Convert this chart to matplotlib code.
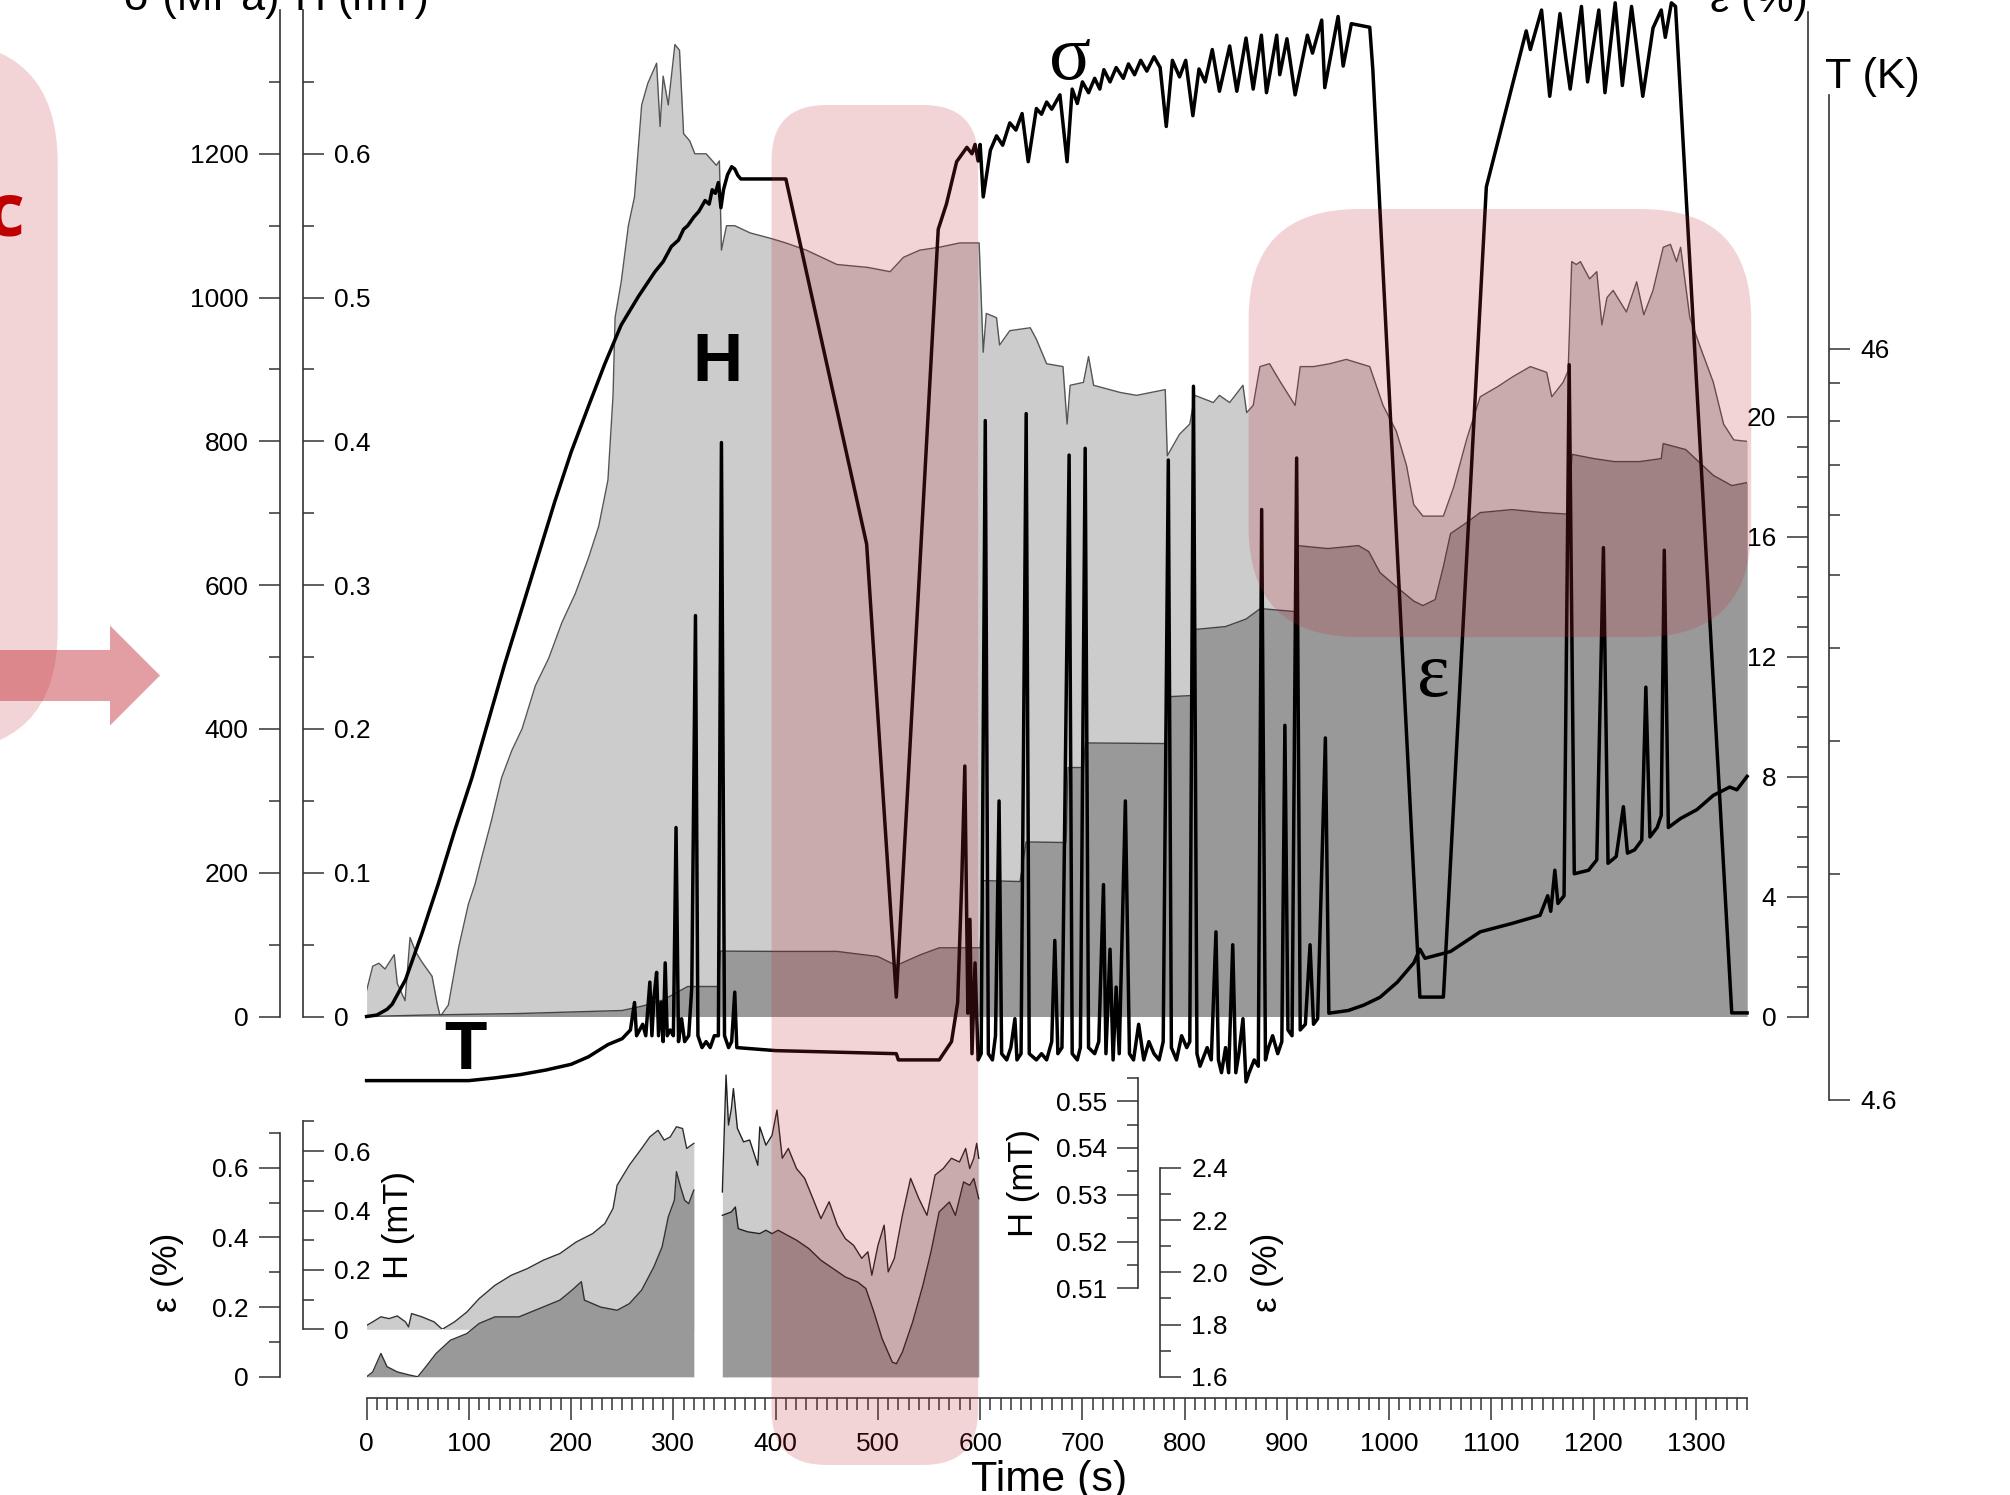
import numpy as np
import matplotlib.pyplot as plt
from matplotlib.patches import FancyBboxPatch, FancyArrow
from matplotlib.transforms import IdentityTransform
from matplotlib.ticker import FixedLocator, FixedFormatter, NullFormatter

plt.rcParams['font.family'] = ['Liberation Sans', 'DejaVu Sans']

# ---- traces: (time s, value) ----
stress = [(0, 0), (10, 2), (20, 10), (25, 17), (38, 51), (54, 115), (70, 184), (86, 258), (103, 332),
          (119, 411), (135, 490), (152, 568), (168, 642), (184, 716), (200, 785), (217, 849), (233, 908),
          (249, 962), (266, 1002), (282, 1036), (290, 1050), (298, 1071), (305, 1080), (310, 1095),
          (314, 1100), (320, 1112), (325, 1120), (331, 1135), (335, 1130), (338, 1150), (341, 1145),
          (344, 1160), (346.5, 1125), (349, 1150), (353, 1171), (357, 1182), (360, 1179), (363, 1170),
          (366, 1165), (410, 1165), (489, 657), (518, 27), (559, 1095), (567, 1130), (577, 1189),
          (587, 1209), (592, 1200), (595, 1213), (598, 1190), (600, 1213), (603, 1140), (610, 1205),
          (616, 1225), (622, 1212), (629, 1243), (635, 1233), (641, 1256), (647, 1189), (655, 1263),
          (660, 1255), (665, 1272), (670, 1262), (678, 1282), (685, 1189), (690, 1290), (695, 1270),
          (700, 1300), (706, 1285), (712, 1305), (717, 1290), (721, 1317), (727, 1300), (733, 1320),
          (740, 1305), (745, 1325), (751, 1310), (757, 1330), (763, 1315), (770, 1335), (776, 1320),
          (782, 1238), (788, 1330), (795, 1307), (801, 1330), (808, 1253), (814, 1318), (820, 1300),
          (827, 1345), (834, 1287), (844, 1350), (851, 1287), (860, 1361), (867, 1290), (875, 1365),
          (880, 1285), (890, 1365), (893, 1310), (900, 1360), (908, 1282), (920, 1365), (925, 1340),
          (934, 1386), (937, 1292), (950, 1391), (955, 1322), (963, 1381), (981, 1376), (984, 1317),
          (1030, 27), (1053, 27), (1095, 1154), (1134, 1371), (1138, 1345), (1142, 1365), (1149, 1400),
          (1157, 1280), (1167, 1395), (1173, 1330), (1177, 1290), (1188, 1405), (1194, 1300),
          (1205, 1400), (1211, 1285), (1221, 1410), (1228, 1295), (1237, 1405), (1248, 1280),
          (1258, 1375), (1266, 1400), (1270, 1362), (1276, 1410), (1280, 1405), (1335, 5), (1350, 5)]

temperature = [(0, 4.88), (100, 4.88), (125, 4.92), (150, 4.97), (175, 5.04), (200, 5.13), (217, 5.25),
               (236, 5.45), (250, 5.55),
               (258, 5.7), (262, 6.2), (264, 5.6), (270, 5.8), (273, 5.6), (277, 6.6), (279, 5.6),
               (281, 6.3), (283.6, 6.8), (285.5, 5.6), (288, 6.2), (290, 5.5), (292, 7.0), (294, 5.6),
               (297, 5.7), (300, 5.6), (302.6, 10.6), (305, 5.5), (308, 5.9), (311, 5.5), (315, 5.6),
               (318, 6.5), (321.6, 20.3), (324, 5.6), (328, 5.4), (332, 5.5), (336, 5.4), (340, 5.6),
               (344, 5.6), (347, 34.5), (350, 5.6), (354, 5.4), (357, 5.5), (360, 6.4), (362, 5.4),
               (400, 5.35), (518, 5.3), (520, 5.2), (560, 5.2), (572, 5.5), (578, 6.2), (582, 9.0),
               (585, 12.8), (588, 6.0), (590, 8.0), (592, 5.3), (595, 7.0), (598, 5.2), (601, 5.3),
               (605, 36.9), (608, 5.3), (612, 5.2), (615, 5.6), (618.5, 11.5), (621, 5.3), (626, 5.2),
               (630, 5.4), (634, 5.9), (636, 5.2), (640, 5.3), (645, 37.7), (648, 5.3), (655, 5.2),
               (660, 5.3), (665, 5.2), (670, 5.5), (673, 7.5), (676, 5.3), (680, 5.4), (687, 33.2),
               (690, 5.3), (695, 5.2), (698, 5.4), (702.7, 33.9), (706, 5.4), (712, 5.3), (716, 5.5),
               (720.6, 8.9), (723, 5.3), (727, 7.3), (730, 5.2), (733, 6.5), (736, 5.3), (742, 11.5),
               (746, 5.3), (750, 5.2), (755, 5.8), (760, 5.2), (765, 5.5), (770, 5.3), (775, 5.2),
               (779, 5.5), (784, 32.7), (787, 5.4), (792, 5.2), (797, 5.6), (802, 5.4), (805, 5.5),
               (808.6, 41), (812, 5.3), (815, 5.1), (822, 5.4), (826, 5.2), (830.6, 7.7), (833, 5.2),
               (836, 5.0), (840, 5.4), (843, 5.0), (847, 7.4), (850, 5.0), (853, 5.3), (857, 5.9),
               (860, 4.86), (863, 5.0), (868, 5.2), (872, 5.1), (875.3, 28.1), (879, 5.2), (882, 5.4),
               (886, 5.6), (891, 5.3), (895, 5.5), (898, 14.5), (901, 5.7), (905, 5.6), (909.5, 32.9),
               (913, 5.7), (918, 5.8), (922.6, 7.4), (926, 5.8), (930, 5.9), (937.6, 13.95), (941, 6.0),
               (960, 6.05), (975, 6.15), (991, 6.3), (1008, 6.6), (1024, 7.0), (1030, 7.3), (1035, 7.1),
               (1060, 7.25), (1089, 7.7),
               (1120, 7.9), (1147.5, 8.1), (1155, 8.6), (1158, 8.2), (1162, 9.3), (1165, 8.4),
               (1171, 8.6), (1176, 43.8), (1181, 9.2), (1195, 9.3), (1203, 9.6), (1209.5, 25.0),
               (1214, 9.5), (1222, 9.7), (1229, 11.3), (1233, 9.8), (1240, 9.9), (1247, 10.2),
               (1251, 16.3), (1255, 10.3), (1262, 10.6), (1266, 11.0), (1269, 24.8), (1273, 10.6),
               (1285, 10.9), (1301, 11.2), (1317, 11.7), (1333, 12.0), (1340, 11.9), (1350, 12.4)]

field = [(0, 0.018), (6, 0.035), (12, 0.037), (18, 0.033), (27, 0.043), (30, 0.023), (37.6, 0.011),
         (42.5, 0.055), (48, 0.045), (54, 0.038), (64, 0.028), (69, 0.009), (72, 0), (80, 0.008),
         (90, 0.048), (99.5, 0.078), (106, 0.092), (112, 0.109), (122, 0.136), (132, 0.166),
         (142, 0.185), (152, 0.2), (165, 0.23), (178, 0.249), (191, 0.274), (204, 0.294), (217, 0.319),
         (227, 0.341), (236, 0.373), (241, 0.432), (243, 0.486), (249, 0.511), (256, 0.55), (262, 0.57),
         (269, 0.634), (275, 0.649), (283.6, 0.663), (287, 0.619), (290, 0.654), (295, 0.634),
         (301.5, 0.676), (306, 0.672), (310, 0.614), (316, 0.609), (321, 0.6), (332, 0.6), (342, 0.592),
         (345, 0.595), (347, 0.533), (352, 0.55), (360, 0.55), (375, 0.545), (396, 0.541), (410, 0.538),
         (430, 0.533), (460, 0.523), (490, 0.521), (512, 0.518), (525, 0.528), (541, 0.533),
         (560, 0.535), (580, 0.538), (599, 0.538), (603, 0.462), (606, 0.489), (616, 0.486),
         (619, 0.467), (629, 0.477), (649, 0.479), (655, 0.471), (665, 0.454), (681, 0.452),
         (685, 0.412), (688, 0.439), (701, 0.441), (706, 0.459), (711, 0.439), (737, 0.434),
         (753, 0.432), (781, 0.436), (783, 0.39), (795, 0.405), (805, 0.412), (810, 0.432),
         (828, 0.427), (834, 0.432), (844, 0.427), (857, 0.439), (860.6, 0.42), (867, 0.425),
         (873.6, 0.452), (883, 0.454), (893, 0.442), (908, 0.425), (913, 0.452), (926, 0.452),
         (942, 0.454), (958, 0.457), (981, 0.452), (994, 0.425), (1007, 0.407), (1017, 0.383),
         (1024, 0.356), (1033, 0.348), (1053, 0.348), (1063, 0.368), (1076, 0.402), (1089, 0.431),
         (1106, 0.438), (1121, 0.445), (1138, 0.452), (1154, 0.448), (1159, 0.431), (1170, 0.441),
         (1175, 0.449), (1178.5, 0.525), (1183, 0.523), (1187, 0.525), (1196, 0.513), (1203, 0.518),
         (1208, 0.481), (1213, 0.5), (1219, 0.505), (1226, 0.497), (1232, 0.49), (1242, 0.511),
         (1249, 0.488), (1258, 0.505), (1268, 0.535), (1275, 0.537), (1281, 0.525), (1285, 0.535),
         (1294, 0.486), (1304, 0.466), (1317, 0.441), (1327, 0.412), (1337, 0.401), (1350, 0.4)]

strain = [(0, 0), (60, 0.05), (150, 0.1), (250, 0.2), (270, 0.35), (290, 0.55), (314, 1.0), (344, 1.0),
          (346, 2.18), (400, 2.17), (460, 2.17), (500, 2.0), (518, 1.7), (541, 2.05), (560, 2.29),
          (600, 2.29), (603, 4.53), (639, 4.5), (645, 5.82), (684, 5.8), (686, 8.3), (701, 8.3),
          (703, 9.12), (781, 9.1), (783, 10.66), (807, 10.7), (809, 12.9), (840, 13.0), (860, 13.25),
          (874, 13.6), (908, 13.5), (910, 15.7), (940, 15.6), (970, 15.7), (980, 15.5), (991, 14.8),
          (1008, 14.3), (1024, 13.85), (1033, 13.7), (1045, 13.9), (1053, 15.0), (1060, 16.1),
          (1073, 16.4), (1089, 16.8), (1120, 16.9), (1150, 16.8), (1174, 16.75), (1179, 18.74),
          (1200, 18.6), (1220, 18.5), (1245, 18.5), (1266, 18.6), (1268, 19.1), (1290, 18.9),
          (1317, 18.04), (1335, 17.7), (1350, 17.8)]

# lower insets
field_in1 = [(0, 0.013), (6, 0.025), (14, 0.042), (22, 0.036), (30, 0.045), (38, 0.025), (41, 0.008),
             (44, 0.053), (54, 0.042), (66, 0.025), (74, 0), (86, 0.025), (98, 0.058), (110, 0.103),
             (125.5, 0.148), (141.5, 0.182), (157, 0.204), (173, 0.233), (189, 0.255), (205, 0.294),
             (221, 0.322), (233, 0.356), (241, 0.407), (245, 0.485), (257, 0.553), (269, 0.609),
             (277, 0.648), (285, 0.67), (291, 0.637), (297, 0.648), (303, 0.682), (309, 0.676),
             (313, 0.609), (320, 0.626)]
strain_in1 = [(0, 0), (6, 0.014), (14, 0.067), (20, 0.029), (30, 0.014), (42, 0.005), (50, 0.0),
              (58, 0.029), (68, 0.067), (82, 0.105), (98, 0.124), (110, 0.153), (125.5, 0.172),
              (149, 0.172), (169, 0.196), (189, 0.22), (201, 0.249), (210, 0.273), (213, 0.22),
              (229, 0.2), (245, 0.191), (257, 0.21), (269, 0.249), (281, 0.316), (289, 0.373),
              (295, 0.459), (301, 0.507), (303, 0.589), (307, 0.545), (311, 0.507), (315, 0.497),
              (320, 0.536)]
field_in2 = [(347.9, 0.5306), (351.5, 0.5556), (353.9, 0.5449), (356.7, 0.5484), (358.7, 0.5527),
             (362.6, 0.5442), (368.6, 0.5413), (374.6, 0.5417), (382.6, 0.5363), (384.5, 0.5445),
             (390.5, 0.5406), (396.5, 0.5427), (401.3, 0.5481), (406.5, 0.5378), (412.4, 0.5399),
             (420.4, 0.5356), (428.4, 0.5335), (436.4, 0.5292), (444.3, 0.5249), (452.3, 0.5285),
             (460.3, 0.5235), (468.2, 0.5206), (476.2, 0.5192), (484.2, 0.5164), (490.2, 0.5178),
             (494.1, 0.5128), (500.1, 0.5192), (506.1, 0.5235), (510.1, 0.5135), (516.1, 0.5164),
             (524.0, 0.5256), (532.0, 0.5335), (540.0, 0.5292), (548.0, 0.5256), (555.9, 0.5342),
             (563.9, 0.5356), (571.9, 0.5378), (579.8, 0.537), (585.8, 0.5399), (589.8, 0.5356),
             (593.8, 0.5378), (596.6, 0.541), (598.6, 0.5378)]
strain_in2 = [(347.9, 2.218), (356.7, 2.231), (360.6, 2.25), (363.4, 2.167), (372.6, 2.155),
              (384.5, 2.148), (390.5, 2.161), (396.5, 2.148), (402.5, 2.161), (408.5, 2.148),
              (420.4, 2.123), (432.4, 2.091), (444.3, 2.046), (456.3, 2.014), (468.2, 1.982),
              (480.2, 1.963), (488.2, 1.938), (496.1, 1.848), (504.1, 1.746), (514.1, 1.656),
              (518.1, 1.65), (524.0, 1.695), (534.0, 1.81), (544.0, 1.95), (551.9, 2.078),
              (559.9, 2.231), (569.9, 2.269), (575.8, 2.218), (583.8, 2.346), (589.8, 2.333),
              (593.8, 2.359), (598.6, 2.282)]

time_ticks = list(range(0, 1301, 100))

# ---- layout (pixels of the 2010 x 1495 canvas) ----
FIG_W, FIG_H = 2010, 1495
X0, X1 = 366.6, 1747.1          # columns of t = 0 and t = 1350
T_END = 1350
AX_COL = '#333333'
LIGHT, DARK = '#cccccc', '#999999'
PINK = (0.75, 0.16, 0.2)

fig = plt.figure(figsize=(FIG_W / 100, FIG_H / 100), dpi=100)


def xfrac(px):
    return (px - X0) / (X1 - X0)


def make_axes(cal, lims, log=False):
    # cal: two (value, pixel row) pairs that fix the vertical scale
    (v0, p0), (v1, p1) = cal
    f = np.log10 if log else (lambda v: v)
    k = (p1 - p0) / (f(v1) - f(v0))
    p_lo = p0 + k * (f(lims[0]) - f(v0))
    p_hi = p0 + k * (f(lims[1]) - f(v0))
    ax = fig.add_axes([X0 / FIG_W, 1 - p_lo / FIG_H, (X1 - X0) / FIG_W, (p_lo - p_hi) / FIG_H])
    if log:
        ax.set_yscale('log')
    ax.set_xlim(0, T_END)
    ax.set_ylim(*lims)
    ax.patch.set_visible(False)
    for sp in ax.spines.values():
        sp.set_visible(False)
    ax.set_xticks([])
    return ax


def style_y(ax, side, x_px, bounds, major, labels, minor):
    sp = ax.spines[side]
    sp.set_visible(True)
    sp.set_position(('axes', xfrac(x_px)))
    sp.set_bounds(*bounds)
    sp.set_color(AX_COL)
    sp.set_linewidth(1.2)
    ax.yaxis.set_ticks_position(side)
    ax.yaxis.set_major_locator(FixedLocator(major))
    ax.yaxis.set_major_formatter(FixedFormatter(labels))
    ax.yaxis.set_minor_locator(FixedLocator(minor))
    ax.yaxis.set_minor_formatter(NullFormatter())
    ax.tick_params(axis='y', which='both', direction='out', color=AX_COL, width=1.1,
                   labelsize=19, pad=7.5)
    ax.tick_params(axis='y', which='major', length=15)
    ax.tick_params(axis='y', which='minor', length=8)


def shade(ax, trace, color, edge, base):
    t, v = zip(*trace)
    ax.fill_between(t, v, base, color=color, lw=0)
    ax.plot(t, v, color=edge, lw=1.0)


# main panel
ax_H = make_axes(((0, 1016.5), (0.6, 153.8)), (0, 0.7))
ax_eps = make_axes(((0, 1016.5), (20, 416.6)), (0, 33.5))
ax_T = make_axes(((4.6, 1099.9), (46, 348.7)), (4.6, 100), log=True)
ax_sig = make_axes(((0, 1016.5), (1200, 153.8)), (0, 1400))

# insets
ax_h1 = make_axes(((0, 1329.3), (0.6, 1151.1)), (0, 0.7))
ax_e1 = make_axes(((0, 1376.8), (0.6, 1167.8)), (0, 0.7))
h2_lo = 0.51 + (1376.8 - 1288.3) * (0.55 - 0.51) / (1101.2 - 1288.3)
ax_h2 = make_axes(((0.51, 1288.3), (0.55, 1101.2)), (h2_lo, 0.56))
ax_e2 = make_axes(((1.6, 1376.8), (2.4, 1167.8)), (1.6, 2.4))

shade(ax_H, field, LIGHT, '#555555', 0)
shade(ax_eps, strain, DARK, '#444444', 0)
ax_T.plot(*zip(*temperature), color='black', lw=2.5, clip_on=False)
ax_sig.plot(*zip(*stress), color='black', lw=2.5, clip_on=False)

shade(ax_h1, field_in1, LIGHT, '#333333', 0)
shade(ax_e1, strain_in1, DARK, '#333333', 0)
shade(ax_h2, field_in2, LIGHT, '#222222', h2_lo)
shade(ax_e2, strain_in2, DARK, '#222222', 1.6)

# axes
style_y(ax_sig, 'left', 279.5, (0, 1400), list(range(0, 1201, 200)),
        [str(v) for v in range(0, 1201, 200)], list(range(100, 1301, 200)))
style_y(ax_H, 'right', 302.5, (0, 0.7), [0, 0.1, 0.2, 0.3, 0.4, 0.5, 0.6],
        ['0', '0.1', '0.2', '0.3', '0.4', '0.5', '0.6'], [0.05, 0.15, 0.25, 0.35, 0.45, 0.55, 0.65])
style_y(ax_eps, 'left', 1807.5, (0, 33.5), list(range(0, 21, 4)),
        [str(v) for v in range(0, 21, 4)], [v for v in range(1, 20) if v % 4])
style_y(ax_T, 'right', 1829.3, (4.6, 100), [4.6, 46], ['4.6', '46'], [4.6 * n for n in range(2, 10)])
style_y(ax_e1, 'left', 279.5, (0, 0.7), [0, 0.2, 0.4, 0.6], ['0', '0.2', '0.4', '0.6'],
        [0.1, 0.3, 0.5, 0.7])
style_y(ax_h1, 'right', 302.5, (0, 0.7), [0, 0.2, 0.4, 0.6], ['0', '0.2', '0.4', '0.6'],
        [0.1, 0.3, 0.5, 0.7])
style_y(ax_h2, 'left', 1138.3, (0.51, 0.555), [0.51, 0.52, 0.53, 0.54, 0.55],
        ['0.51', '0.52', '0.53', '0.54', '0.55'], [0.515, 0.525, 0.535, 0.545, 0.555])
style_y(ax_e2, 'right', 1160.1, (1.6, 2.4), [1.6, 1.8, 2.0, 2.2, 2.4],
        ['1.6', '1.8', '2.0', '2.2', '2.4'], [1.7, 1.9, 2.1, 2.3])

# time axis
sp = ax_e1.spines['bottom']
sp.set_visible(True)
sp.set_position(('outward', 15.5))
sp.set_bounds(0, T_END)
sp.set_color(AX_COL)
sp.set_linewidth(1.2)
ax_e1.set_xticks(time_ticks)
ax_e1.set_xticklabels([str(v) for v in time_ticks])
ax_e1.set_xticks(list(range(0, T_END + 1, 10)), minor=True)
ax_e1.tick_params(axis='x', which='both', direction='out', color=AX_COL, width=1.1, labelsize=19, pad=8.5)
ax_e1.tick_params(axis='x', which='major', length=15.6)
ax_e1.tick_params(axis='x', which='minor', length=8.4)
ax_e1.text(667 / T_END, -0.341, 'Time (s)', transform=ax_e1.transAxes, ha='center', va='top', fontsize=31)

# axis titles (partly cut by the top edge, as in the source figure)
ax_sig.text(xfrac(279.5), 1.0, 'σ (MPa)', transform=ax_sig.transAxes, ha='right', va='baseline', fontsize=31)
ax_H.text(xfrac(295), 1.0, 'H (mT)', transform=ax_H.transAxes, ha='left', va='baseline', fontsize=31)
ax_eps.text(xfrac(1807.5), 1.0, 'ε (%)', transform=ax_eps.transAxes, ha='right', va='baseline', fontsize=31)
ax_T.text(xfrac(1825), 1.0074, 'T (K)', transform=ax_T.transAxes, ha='left', va='baseline', fontsize=31)

px = IdentityTransform()
for x, y, s in [(168, 1272, 'ε (%)'), (398.5, 1225, 'H (mT)'), (1024, 1183, 'H (mT)'), (1267.5, 1272, 'ε (%)')]:
    fig.text(x, FIG_H - y, s, transform=px, rotation=90, ha='center', va='center', fontsize=25)

# curve names
ax_sig.text(343.5, 909, 'H', ha='center', va='center', fontsize=50, fontweight='bold')
ax_sig.text(688, 1330, 'σ', ha='center', va='center', fontsize=56, family=['Liberation Serif'])
ax_eps.text(1043, 11.3, 'ε', ha='center', va='center', fontsize=56, family=['Liberation Serif'])
ax_T.text(96.5, 5.35, 'T', ha='center', va='center', fontsize=50, fontweight='bold')


# highlight boxes
def rounded_box(ax, x0, x1, y0, y1, radius):
    (a, b), (c, d) = ax.transData.transform([(x0, y0), (x1, y1)])
    fig.add_artist(FancyBboxPatch((a, b), c - a, d - b, boxstyle=f'round,pad=0,rounding_size={radius}',
                                  transform=px, facecolor=PINK, alpha=0.2, lw=0, zorder=10))


rounded_box(ax_sig, 396, 598, -623.8, 1267.9, 55)
rounded_box(ax_eps, 862.5, 1354, 12.65, 26.92, 110)

# partial panel on the left edge
fig.add_artist(FancyBboxPatch((-300, FIG_H - 752), 357.7, 711, boxstyle='round,pad=0,rounding_size=122',
                              transform=px, facecolor=PINK, alpha=0.2, lw=0, zorder=10))
fig.add_artist(FancyArrow(-10, FIG_H - 675.5, 170, 0, width=51, head_width=100, head_length=50,
                          length_includes_head=True, transform=px, color=PINK, alpha=0.45, lw=0, zorder=11))
fig.text(25, FIG_H - 235, 'c', transform=px, ha='right', va='baseline', color='#c00000', fontsize=53,
         fontweight='bold', family=['Open Sans', 'DejaVu Sans'], zorder=12)

fig.savefig('out.png', dpi=100)
